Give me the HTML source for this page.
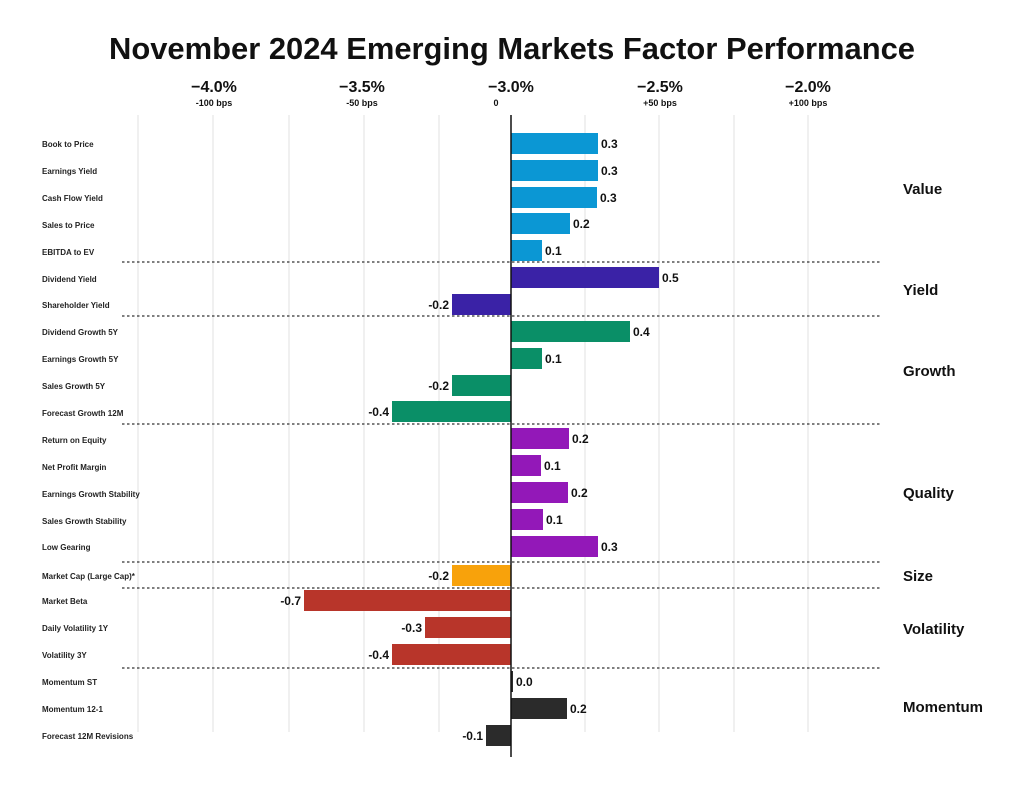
<!DOCTYPE html>
<html><head><meta charset="utf-8"><style>
html,body{margin:0;padding:0;background:#fff}
svg{display:block;font-family:"Liberation Sans",sans-serif}
</style></head><body>
<svg width="1024" height="794" viewBox="0 0 1024 794" xmlns="http://www.w3.org/2000/svg">
<text x="512" y="59" text-anchor="middle" font-size="31" font-weight="bold" fill="#111" textLength="806" lengthAdjust="spacingAndGlyphs">November 2024 Emerging Markets Factor Performance</text>
<g font-weight="bold" fill="#111" text-anchor="middle">
<text x="214" y="92" font-size="16">−4.0%</text><text x="214" y="106" font-size="9">-100 bps</text>
<text x="362" y="92" font-size="16">−3.5%</text><text x="362" y="106" font-size="9">-50 bps</text>
<text x="511" y="92" font-size="16">−3.0%</text><text x="496" y="106" font-size="9">0</text>
<text x="660" y="92" font-size="16">−2.5%</text><text x="660" y="106" font-size="9">+50 bps</text>
<text x="808" y="92" font-size="16">−2.0%</text><text x="808" y="106" font-size="9">+100 bps</text>
</g>
<g stroke="#e2e2e2" stroke-width="1">
<line x1="138" y1="115" x2="138" y2="732"/><line x1="213" y1="115" x2="213" y2="732"/><line x1="289" y1="115" x2="289" y2="732"/><line x1="364" y1="115" x2="364" y2="732"/><line x1="439" y1="115" x2="439" y2="732"/><line x1="585" y1="115" x2="585" y2="732"/><line x1="659" y1="115" x2="659" y2="732"/><line x1="734" y1="115" x2="734" y2="732"/><line x1="808" y1="115" x2="808" y2="732"/>
</g>
<g stroke="#333" stroke-width="1.3" stroke-dasharray="2.5,2.5">
<line x1="122" y1="262" x2="882" y2="262"/><line x1="122" y1="316" x2="882" y2="316"/><line x1="122" y1="424" x2="882" y2="424"/><line x1="122" y1="562" x2="882" y2="562"/><line x1="122" y1="588" x2="882" y2="588"/><line x1="122" y1="668" x2="882" y2="668"/>
</g>
<g font-size="8" font-weight="bold" fill="#222">
<text x="42" y="147">Book to Price</text><text x="42" y="174">Earnings Yield</text><text x="42" y="201">Cash Flow Yield</text><text x="42" y="228">Sales to Price</text><text x="42" y="255">EBITDA to EV</text><text x="42" y="282">Dividend Yield</text><text x="42" y="308">Shareholder Yield</text><text x="42" y="335">Dividend Growth 5Y</text><text x="42" y="362">Earnings Growth 5Y</text><text x="42" y="389">Sales Growth 5Y</text><text x="42" y="416">Forecast Growth 12M</text><text x="42" y="443">Return on Equity</text><text x="42" y="470">Net Profit Margin</text><text x="42" y="497">Earnings Growth Stability</text><text x="42" y="524">Sales Growth Stability</text><text x="42" y="550">Low Gearing</text><text x="42" y="579">Market Cap (Large Cap)*</text><text x="42" y="604">Market Beta</text><text x="42" y="631">Daily Volatility 1Y</text><text x="42" y="658">Volatility 3Y</text><text x="42" y="685">Momentum ST</text><text x="42" y="712">Momentum 12-1</text><text x="42" y="739">Forecast 12M Revisions</text>
</g>
<g>
<rect x="511" y="133" width="87" height="21" fill="#0b97d4"/>
<rect x="511" y="160" width="87" height="21" fill="#0b97d4"/>
<rect x="511" y="187" width="86" height="21" fill="#0b97d4"/>
<rect x="511" y="213" width="59" height="21" fill="#0b97d4"/>
<rect x="511" y="240" width="31" height="21" fill="#0b97d4"/>
<rect x="511" y="267" width="148" height="21" fill="#3a22a6"/>
<rect x="452" y="294" width="59" height="21" fill="#3a22a6"/>
<rect x="511" y="321" width="119" height="21" fill="#0a8f67"/>
<rect x="511" y="348" width="31" height="21" fill="#0a8f67"/>
<rect x="452" y="375" width="59" height="21" fill="#0a8f67"/>
<rect x="392" y="401" width="119" height="21" fill="#0a8f67"/>
<rect x="511" y="428" width="58" height="21" fill="#9318b8"/>
<rect x="511" y="455" width="30" height="21" fill="#9318b8"/>
<rect x="511" y="482" width="57" height="21" fill="#9318b8"/>
<rect x="511" y="509" width="32" height="21" fill="#9318b8"/>
<rect x="511" y="536" width="87" height="21" fill="#9318b8"/>
<rect x="452" y="565" width="59" height="21" fill="#f8a20b"/>
<rect x="304" y="590" width="207" height="21" fill="#b8352a"/>
<rect x="425" y="617" width="86" height="21" fill="#b8352a"/>
<rect x="392" y="644" width="119" height="21" fill="#b8352a"/>
<rect x="511" y="671" width="2" height="21" fill="#2b2b2b"/>
<rect x="511" y="698" width="56" height="21" fill="#2b2b2b"/>
<rect x="486" y="725" width="25" height="21" fill="#2b2b2b"/>
</g>
<line x1="511" y1="115" x2="511" y2="757" stroke="#111" stroke-width="1.5"/>
<g font-size="12" font-weight="bold" fill="#111">
<text x="601" y="148">0.3</text><text x="601" y="175">0.3</text><text x="600" y="202">0.3</text><text x="573" y="228">0.2</text><text x="545" y="255">0.1</text><text x="662" y="282">0.5</text><text x="449" y="309" text-anchor="end">-0.2</text><text x="633" y="336">0.4</text><text x="545" y="363">0.1</text><text x="449" y="390" text-anchor="end">-0.2</text><text x="389" y="416" text-anchor="end">-0.4</text><text x="572" y="443">0.2</text><text x="544" y="470">0.1</text><text x="571" y="497">0.2</text><text x="546" y="524">0.1</text><text x="601" y="551">0.3</text><text x="449" y="580" text-anchor="end">-0.2</text><text x="301" y="605" text-anchor="end">-0.7</text><text x="422" y="632" text-anchor="end">-0.3</text><text x="389" y="659" text-anchor="end">-0.4</text><text x="516" y="686">0.0</text><text x="570" y="713">0.2</text><text x="483" y="740" text-anchor="end">-0.1</text>
</g>
<g font-size="15" font-weight="bold" fill="#111">
<text x="903" y="194">Value</text><text x="903" y="295">Yield</text><text x="903" y="376">Growth</text><text x="903" y="498">Quality</text><text x="903" y="581">Size</text><text x="903" y="634">Volatility</text><text x="903" y="712">Momentum</text>
</g>
</svg>
</body></html>
